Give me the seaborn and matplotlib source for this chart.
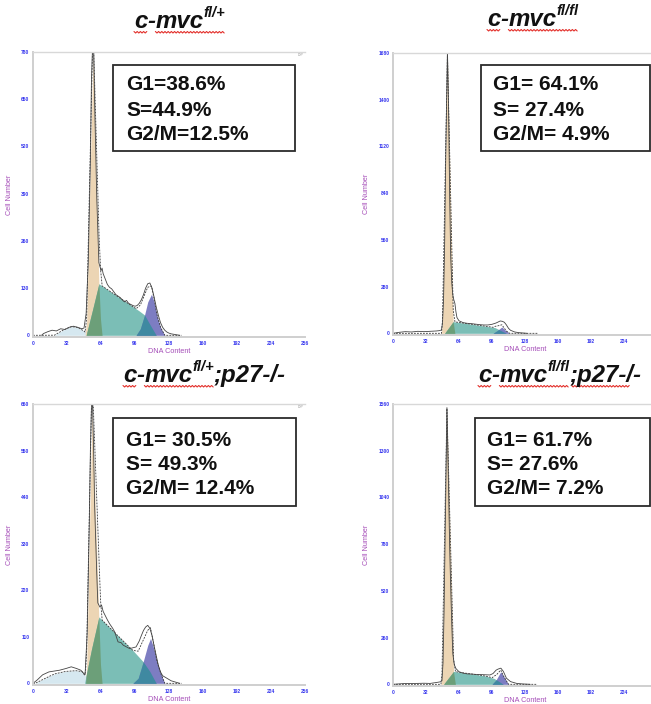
import numpy as np
import pandas as pd
import matplotlib
matplotlib.use("Agg")
import matplotlib.pyplot as plt
import seaborn as sns
from matplotlib.patches import Rectangle
from matplotlib.lines import Line2D

# ---------------- data ----------------
dna_ticks = [0, 32, 64, 96, 128, 160, 192, 224, 256]

# panel 1: c-mvc fl/+
p1_yticks = [0, 130, 260, 390, 520, 650, 780]
p1_raw_ch = [8, 10, 14, 18, 22, 26, 30, 34, 38, 42, 46, 48, 50, 52, 54, 55, 56, 57, 58, 60,
             62, 64, 65, 66, 68, 70, 72, 74, 76, 78, 80, 82, 84, 86, 88, 90, 92, 94, 96, 98,
             100, 102, 104, 106, 108, 110, 112, 114, 116, 118, 120, 122, 124, 126, 128, 130, 134, 138]
p1_raw_n = [0, 5, 10, 14, 12, 18, 16, 22, 25, 22, 18, 20, 60, 200, 480, 700, 790, 800, 640, 380,
            200, 178, 185, 170, 155, 140, 132, 128, 120, 112, 108, 104, 98, 92, 96, 88, 85, 82, 80, 82,
            88, 98, 112, 130, 142, 144, 130, 105, 78, 55, 35, 22, 14, 9, 6, 4, 2, 0]
p1_debris_x = [20, 28, 36, 42, 48, 52]
p1_debris_y = [0, 14, 24, 22, 12, 0]
p1_g1_x = [49, 50.5, 56.5, 62, 63.5, 65]
p1_g1_y = [0, 40, 775, 142, 45, 0]
p1_s_x = [50, 56, 62, 70, 80, 90, 100, 105, 110, 116]
p1_s_y = [0, 70, 142, 126, 106, 87, 67, 56, 30, 0]
p1_g2_x = [97, 101, 105, 108, 111.5, 114, 117, 120, 124]
p1_g2_y = [0, 18, 56, 92, 113, 92, 52, 22, 0]
p1_stats = ["G1=38.6%", "S=44.9%", "G2/M=12.5%"]

# panel 2: c-mvc fl/fl
p2_yticks = [0, 280, 560, 840, 1120, 1400, 1680]
p2_raw_ch = [0, 6, 12, 18, 24, 30, 36, 42, 45, 47, 48, 49, 50, 51, 52, 52.8, 54, 55, 56, 57,
             58, 59, 60, 61, 62, 64, 68, 72, 76, 80, 84, 88, 92, 96, 98, 100, 102, 104, 106, 108,
             110, 112, 114, 118, 122, 126, 130]
p2_raw_n = [0, 6, 10, 8, 12, 10, 12, 14, 16, 20, 60, 200, 500, 1000, 1400, 1700, 1300, 800, 450, 300,
            230, 200, 180, 130, 95, 75, 64, 60, 58, 55, 52, 50, 50, 54, 58, 62, 68, 74, 72, 66,
            50, 30, 18, 8, 4, 2, 0]
p2_debris_x = [0, 1]
p2_debris_y = [0, 0]
p2_g1_x = [47, 48, 52.8, 58.3, 60]
p2_g1_y = [0, 80, 1650, 70, 0]
p2_s_x = [50, 58.3, 70, 80, 90, 99, 104, 110]
p2_s_y = [0, 70, 60, 51, 42, 34, 18, 0]
p2_g2_x = [97, 101, 105.5, 109, 113]
p2_g2_y = [0, 16, 38, 18, 0]
p2_stats = ["G1= 64.1%", "S= 27.4%", "G2/M= 4.9%"]

# panel 3: c-mvc fl/+ ; p27-/-
p3_yticks = [0, 110, 220, 330, 440, 550, 660]
p3_raw_ch = [0, 4, 9, 15, 20, 25, 31, 36, 41, 45, 49, 51, 53, 54, 55, 56, 57, 58, 60, 61,
             63, 64.5, 66, 68, 70, 72, 75, 77, 80, 83, 85, 88, 91, 94, 97, 100, 102, 104, 106, 108,
             110, 112, 114, 116, 118, 120, 122, 126, 130, 134, 138]
p3_raw_n = [0, 8, 20, 27, 29, 31, 35, 39, 35, 31, 20, 120, 380, 550, 650, 660, 560, 420, 260, 190,
            180, 185, 170, 160, 150, 141, 130, 121, 98, 96, 90, 86, 82, 84, 86, 100, 113, 125, 133, 137,
            130, 113, 88, 65, 42, 27, 18, 12, 6, 3, 0]
p3_debris_x = [2, 10, 20, 30, 40, 46, 50, 53]
p3_debris_y = [0, 10, 22, 28, 30, 28, 15, 0]
p3_g1_x = [49.5, 50.5, 55.6, 62, 63.5, 65]
p3_g1_y = [0, 40, 645, 150, 45, 0]
p3_s_x = [48.5, 55, 62, 80, 95, 103.7, 110, 116]
p3_s_y = [0, 80, 157, 112, 75, 51, 28, 0]
p3_g2_x = [94, 99, 103.7, 108, 110.6, 113, 117, 120, 124]
p3_g2_y = [0, 12, 51, 90, 106, 88, 50, 25, 0]
p3_stats = ["G1= 30.5%", "S= 49.3%", "G2/M= 12.4%"]

# panel 4: c-mvc fl/fl ; p27-/-
p4_yticks = [0, 260, 520, 780, 1040, 1300, 1560]
p4_raw_ch = [0, 5, 10, 16, 23, 30, 36, 42, 46, 47.5, 48.5, 49.5, 50.5, 51.5, 52.3, 53.5, 55, 56, 57, 58,
             59.4, 61, 64, 68, 72, 76, 81, 86, 90, 94, 97, 100, 102, 104.6, 107, 110, 114, 120, 126, 133]
p4_raw_n = [0, 2, 4, 5, 5, 6, 5, 10, 14, 20, 120, 400, 800, 1200, 1540, 1200, 750, 530, 330, 170,
            110, 88, 70, 62, 58, 57, 55, 54, 53, 52, 60, 79, 85, 90, 72, 34, 15, 5, 2, 0]
p4_debris_x = [0, 1]
p4_debris_y = [0, 0]
p4_g1_x = [46.5, 47.5, 52.3, 58.7, 60.5]
p4_g1_y = [0, 60, 1510, 70, 0]
p4_s_x = [49, 58.7, 70, 80, 90, 98, 103, 107]
p4_s_y = [0, 72, 62, 55, 46, 33, 15, 0]
p4_g2_x = [96, 100, 104.5, 108, 112]
p4_g2_y = [0, 25, 70, 38, 0]
p4_stats = ["G1= 61.7%", "S= 27.6%", "G2/M= 7.2%"]

# ---------------- style ----------------
sns.set_theme(style="white")
plt.rcParams["font.family"] = ["Liberation Sans", "DejaVu Sans"]

W, H = 651, 704
fig = plt.figure(figsize=(W / 100, H / 100), dpi=100)
fig.patch.set_facecolor("white")

C_DEBRIS = "#d6e8f0"
C_G1 = "#ecd5b4"
C_S = "#7bbeb6"
C_G1S = "#6c9f79"
C_G2 = "#7d7dc2"
C_SG2 = "#3f89a1"
C_TICK = "#3434ee"
C_LABEL = "#a54db8"


def fig_rect(l, t, r, b):
    return [l / W, 1 - b / H, (r - l) / W, (b - t) / H]


panels = [
    dict(rect=(33, 52, 305, 337), yt=p1_yticks, ch=p1_raw_ch, n=p1_raw_n,
         deb=(p1_debris_x, p1_debris_y), g1=(p1_g1_x, p1_g1_y), s=(p1_s_x, p1_s_y),
         g2=(p1_g2_x, p1_g2_y), stats=p1_stats, box=(113, 65, 295, 151),
         text_x=126, text_y=(84, 110, 135), edge=False),
    dict(rect=(393, 53, 657, 335), yt=p2_yticks, ch=p2_raw_ch, n=p2_raw_n,
         deb=(p2_debris_x, p2_debris_y), g1=(p2_g1_x, p2_g1_y), s=(p2_s_x, p2_s_y),
         g2=(p2_g2_x, p2_g2_y), stats=p2_stats, box=(481, 65, 650, 151),
         text_x=493, text_y=(84, 110, 135), edge=True),
    dict(rect=(33, 404, 305, 685), yt=p3_yticks, ch=p3_raw_ch, n=p3_raw_n,
         deb=(p3_debris_x, p3_debris_y), g1=(p3_g1_x, p3_g1_y), s=(p3_s_x, p3_s_y),
         g2=(p3_g2_x, p3_g2_y), stats=p3_stats, box=(113, 418, 296, 506),
         text_x=126, text_y=(441, 465, 489), edge=False),
    dict(rect=(393, 404, 657, 686), yt=p4_yticks, ch=p4_raw_ch, n=p4_raw_n,
         deb=(p4_debris_x, p4_debris_y), g1=(p4_g1_x, p4_g1_y), s=(p4_s_x, p4_s_y),
         g2=(p4_g2_x, p4_g2_y), stats=p4_stats, box=(475, 418, 650, 506),
         text_x=487, text_y=(440, 464, 488), edge=True),
]

grid = np.linspace(0, 140, 2801)


def on_grid(xy):
    return np.interp(grid, xy[0], xy[1], left=0, right=0)


for p in panels:
    ax = fig.add_axes(fig_rect(*p["rect"]))
    ymax = p["yt"][-1]
    deb, g1, s, g2 = (on_grid(p[k]) for k in ("deb", "g1", "s", "g2"))

    ax.fill_between(grid, 0, deb, color=C_DEBRIS, lw=0)
    ax.fill_between(grid, 0, g1, color=C_G1, lw=0)
    ax.fill_between(grid, 0, s, color=C_S, lw=0)
    ax.fill_between(grid, 0, np.minimum(g1, s), color=C_G1S, lw=0)
    ax.fill_between(grid, 0, g2, color=C_G2, lw=0)
    ax.fill_between(grid, 0, np.minimum(s, g2), color=C_SG2, lw=0)

    # fitted model total
    ax.plot(grid, deb + g1 + s + g2, color="#3a3a3a", lw=0.6, dashes=(2.2, 1.4))

    # measured histogram
    raw = pd.DataFrame({"channel": p["ch"], "count": p["n"]})
    sns.lineplot(data=raw, x="channel", y="count", ax=ax, color="#444444",
                 linewidth=0.6, estimator=None, sort=True)

    ax.set_xlim(0, 256)
    ax.set_ylim(-0.006 * ymax, ymax)
    ax.set_xticks(dna_ticks)
    # the right-hand panels run past the page edge, so their last label is not shown
    xlabels = [str(v) for v in dna_ticks]
    if p["edge"]:
        xlabels[-1] = ""
    ax.set_xticklabels(xlabels)
    ax.set_yticks(p["yt"])
    ax.set_yticklabels([str(v) for v in p["yt"]])
    ax.tick_params(axis="both", labelsize=3.5, labelcolor=C_TICK, colors=C_TICK,
                   length=1.2, width=0.4, pad=1.5)
    for lab in ax.get_xticklabels() + ax.get_yticklabels():
        lab.set_fontweight("bold")
    ax.set_xlabel("DNA Content", fontsize=5.2, color=C_LABEL, labelpad=1.5)
    ax.set_ylabel("Cell Number", fontsize=5.2, color=C_LABEL, labelpad=6)

    for side in ("left", "bottom"):
        ax.spines[side].set_color("#cfcfcf")
        ax.spines[side].set_linewidth(1.4)
    ax.spines["top"].set_color("#d8d8d8")
    ax.spines["top"].set_linewidth(1.0)
    ax.spines["right"].set_visible(False)
    if not p["edge"]:
        ax.text(0.995, 0.995, "DIP", transform=ax.transAxes, ha="right", va="top",
                fontsize=2.6, color="#9a9a9a")
    ax.set_facecolor("white")

    # statistics box
    l, t, r, b = p["box"]
    fig.patches.append(Rectangle((l / W, 1 - b / H), (r - l) / W, (b - t) / H,
                                 transform=fig.transFigure, facecolor="white",
                                 edgecolor="#2b2b2b", lw=1.3, zorder=5))
    for line, yc in zip(p["stats"], p["text_y"]):
        fig.text(p["text_x"] / W, 1 - yc / H, line, fontsize=15, fontweight="bold",
                 color="#111111", ha="left", va="center", zorder=6)

# ---------------- titles ----------------
renderer = fig.canvas.get_renderer()


def squiggle(x0, x1, y):
    xs = np.arange(x0, x1 + 0.01, 1.6)
    ys = y + np.where(np.arange(len(xs)) % 2 == 0, 0.0, 1.5)
    fig.lines.append(Line2D(xs / W, 1 - ys / H, transform=fig.transFigure,
                            color="#e3302b", lw=0.8))


def title(x_px, base_px, sup, tail, underline_tail):
    x = x_px
    spans = []
    pieces = [("c", 17.3, 0), ("-", 17.3, 0), ("mvc", 17.3, 0), (sup, 10.5, 11)]
    if tail:
        pieces.append((tail, 17.3, 0))
    for txt, size, rise in pieces:
        t = fig.text(x / W, 1 - (base_px - rise) / H, txt, fontsize=size,
                     fontweight="bold", fontstyle="italic", va="baseline", ha="left",
                     color="#111111")
        bb = t.get_window_extent(renderer)
        spans.append((x, x + bb.width))
        x += bb.width
    squiggle(spans[0][0], spans[0][1], base_px + 3.5)
    squiggle(spans[2][0], spans[3][1], base_px + 3.5)
    if tail and underline_tail:
        squiggle(spans[4][0] + 2, spans[4][1] - 12, base_px + 3.5)


title(134, 28, "fl/+", None, False)
title(487, 26, "fl/fl", None, False)
title(123, 382, "fl/+", ";p27-/-", False)
title(478, 382, "fl/fl", ";p27-/-", True)

fig.savefig("out.png", dpi=100, facecolor="white")
